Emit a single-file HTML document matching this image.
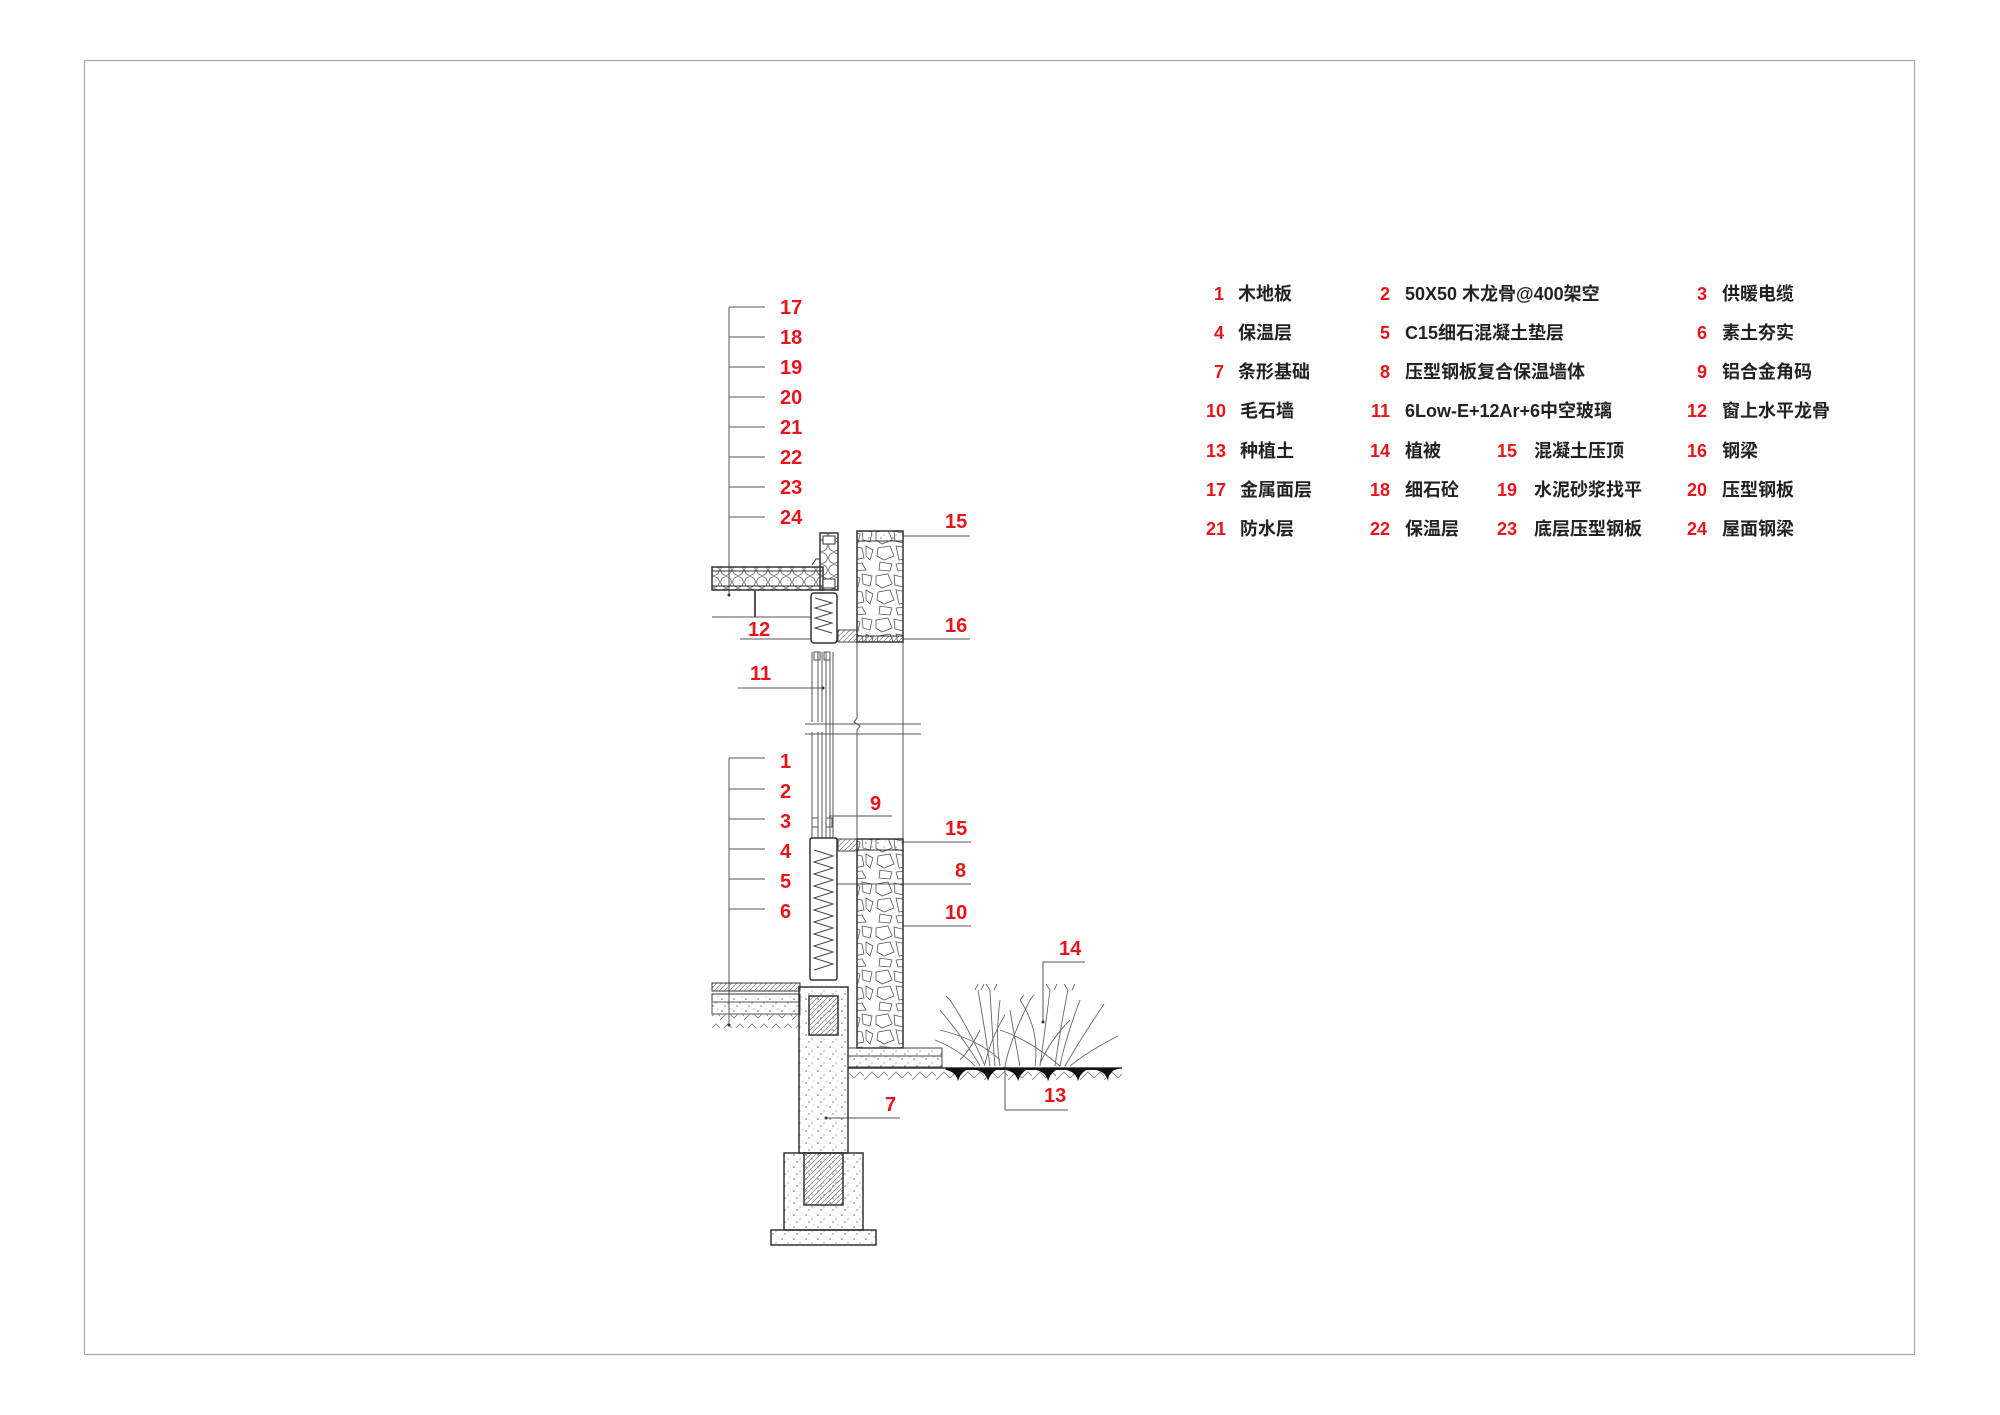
<!DOCTYPE html>
<html><head><meta charset="utf-8"><style>
body{margin:0;background:#fff}
svg{display:block}
.r{fill:#e8141b;font-family:"Liberation Sans",sans-serif;font-size:20px;font-weight:bold}
.n{fill:#e8141b;font-family:"Liberation Sans Narrow","Liberation Sans",sans-serif;font-size:18px;text-anchor:end;font-weight:bold}
.t{fill:#222;font-family:"Liberation Sans Narrow","Liberation Sans","Noto Sans CJK SC",sans-serif;font-size:18px;font-weight:bold}
</style></head><body>
<svg width="2000" height="1415" viewBox="0 0 2000 1415" xmlns="http://www.w3.org/2000/svg">
<defs>
<pattern id="circ" width="12" height="12" patternUnits="userSpaceOnUse"><circle cx="6" cy="6" r="5.3" fill="none" stroke="#555" stroke-width="0.7"/></pattern>
<pattern id="dots" width="12" height="12" patternUnits="userSpaceOnUse"><circle cx="2" cy="3" r="0.8" fill="#666"/><circle cx="8" cy="7" r="0.6" fill="#777"/><circle cx="5" cy="10" r="0.7" fill="#666"/><circle cx="10" cy="1" r="0.5" fill="#888"/></pattern>
<pattern id="hatch" width="5" height="5" patternUnits="userSpaceOnUse"><path d="M0 5L5 0" stroke="#777" stroke-width="0.7"/></pattern>
<pattern id="stone" width="46" height="44" patternUnits="userSpaceOnUse"><path d="M2 4L14 2L18 12L8 16L2 12Z M20 3L32 6L30 15L21 13Z M34 2L44 4L42 14L35 12Z M4 20L16 18L20 28L10 32L3 28Z M22 18L34 20L36 30L25 32Z M38 18L45 22L42 32L38 28Z M6 34L18 36L16 43L5 42Z M22 36L34 35L38 42L24 43Z" fill="none" stroke="#555" stroke-width="0.8"/></pattern>
<pattern id="soil" width="24" height="12" patternUnits="userSpaceOnUse"><path d="M0 12L8 4L14 10M14 10L20 4L24 8" fill="none" stroke="#777" stroke-width="0.8"/></pattern>
</defs>
<rect x="84.5" y="60.5" width="1830" height="1294" fill="none" stroke="#aaa" stroke-width="1.2"/>

<g stroke="#555" stroke-width="1" fill="none">
<path d="M729 307V595"/>
<path d="M729 307H765M729 337H765M729 367H765M729 397H765M729 427H765M729 457H765M729 487H765M729 517H765"/>
<path d="M729 758V1025"/>
<path d="M729 758H765M729 789H765M729 819H765M729 849H765M729 879H765M729 909H765"/>
<path d="M903 536H970M903 639H970M740 639H811M738 688H823M712 617H811M903 842H971M830 884H971M903 926H971M829 816H892M826 1118H900"/>
<path d="M1005 1068V1110H1068M1043 1022V962H1085"/>
<path d="M805 724H921M805 734H921"/>
<path d="M857 642V718L854 722L860 726L857 730V839M903 642V839"/>
</g>

<rect x="712" y="567" width="111" height="23" fill="url(#circ)" stroke="#333" stroke-width="1.5"/>
<line x1="712" y1="571" x2="823" y2="571" stroke="#333"/>
<line x1="712" y1="586" x2="823" y2="586" stroke="#333"/>
<rect x="754" y="590" width="2" height="27" fill="#555"/>
<rect x="820" y="533" width="18" height="57" fill="url(#circ)" stroke="#333" stroke-width="1.5"/>
<rect x="823" y="536" width="12" height="8" fill="#fff" stroke="#333"/>
<rect x="823" y="579" width="12" height="9" fill="#fff" stroke="#333"/>
<path d="M812 565L816 559H820" stroke="#333" fill="none"/>
<rect x="811" y="593" width="26" height="50" rx="3" fill="#fff" stroke="#333" stroke-width="1.5"/>
<polyline points="815,598 832,603 815,608 832,613 815,618 832,623 815,628 832,633" fill="none" stroke="#444"/>
<rect x="838" y="630" width="19" height="12" fill="url(#hatch)" stroke="#444"/>
<g stroke="#555" fill="none">
<path d="M812 652V840M833 652V840M818 652V840M822 652V840M826 652V840M830 652V840"/>
<rect x="814" y="652" width="6" height="8"/><rect x="824" y="652" width="6" height="8"/>
<rect x="812" y="818" width="6" height="9"/><rect x="826" y="818" width="6" height="9"/>
</g>
<rect x="804" y="722" width="20" height="10" fill="#fff"/>
<path d="M805 724H921M805 734H921" stroke="#555"/>
<rect x="857" y="531" width="46" height="111" fill="url(#stone)" stroke="#333" stroke-width="1.5"/>
<rect x="857" y="531" width="46" height="10" fill="url(#dots)" stroke="#333"/>
<rect x="857" y="636" width="46" height="6" fill="url(#hatch)" stroke="#333"/>
<rect x="810" y="838" width="27" height="142" rx="2" fill="#fff" stroke="#333" stroke-width="1.5"/>
<polyline points="814,850 833,856 814,862 833,868 814,874 833,880 814,886 833,892 814,898 833,904 814,910 833,916 814,922 833,928 814,934 833,940 814,946 833,952 814,958 833,964 814,970" fill="none" stroke="#444"/>
<rect x="838" y="839" width="19" height="12" fill="url(#hatch)" stroke="#444"/>
<rect x="857" y="839" width="46" height="209" fill="url(#stone)" stroke="#333" stroke-width="1.5"/>
<rect x="857" y="839" width="46" height="11" fill="url(#dots)" stroke="#333"/>
<rect x="712" y="983" width="88" height="8" fill="url(#hatch)" stroke="#333"/>
<rect x="712" y="994" width="88" height="8" fill="url(#dots)" stroke="#333"/>
<rect x="712" y="1002" width="88" height="12" fill="url(#dots)" stroke="#555"/>
<rect x="712" y="1014" width="88" height="14" fill="url(#soil)"/>
<rect x="799" y="987" width="49" height="166" fill="url(#dots)" stroke="#333" stroke-width="1.5"/>
<rect x="809" y="996" width="29" height="39" fill="url(#hatch)" stroke="#333" stroke-width="1.5"/>
<rect x="784" y="1153" width="79" height="77" fill="url(#dots)" stroke="#333" stroke-width="1.5"/>
<rect x="804" y="1153" width="39" height="52" fill="url(#hatch)" stroke="#333" stroke-width="1.5"/>
<rect x="771" y="1230" width="105" height="15" fill="url(#dots)" stroke="#333" stroke-width="1.5"/>
<rect x="848" y="1048" width="94" height="8" fill="url(#dots)" stroke="#444"/>
<rect x="848" y="1056" width="94" height="11" fill="url(#dots)" stroke="#444"/>
<rect x="848" y="1068" width="274" height="14" fill="url(#soil)"/>
<line x1="848" y1="1068" x2="1122" y2="1068" stroke="#333" stroke-width="1.5"/>
<path d="M945 1068H1122L1114 1070Q1108 1074 1108 1081Q1106 1072 1096 1070H1086Q1080 1074 1078 1081Q1076 1072 1066 1070H1056Q1050 1074 1048 1081Q1046 1072 1036 1070H1026Q1020 1074 1018 1081Q1016 1072 1006 1070H996Q990 1074 988 1081Q986 1072 976 1070H966Q960 1074 958 1081Q956 1072 946 1070Z" fill="#111"/>
<g stroke="#666" stroke-width="0.9" fill="none">
<path d="M935 1040Q960 1050 975 1066M940 1010Q965 1040 980 1066M950 1000Q970 1030 985 1066M978 990Q985 1030 990 1066M990 990Q992 1030 995 1066M1000 1000Q995 1040 1000 1066M1010 1010Q1015 1040 1020 1066M1020 1000Q1040 1030 1035 1066M1030 1000Q1010 1040 1005 1066M1050 990Q1045 1030 1040 1066M1068 990Q1060 1030 1055 1066M1080 1000Q1065 1040 1060 1066M1100 1010Q1080 1040 1065 1066M1118 1036Q1090 1050 1070 1066M1000 1030Q1030 1040 1060 1066M940 1030Q980 1040 1000 1060M960 1060Q970 1050 980 1030M1040 1064Q1050 1040 1070 1020M985 1064Q990 1040 1005 1015"/>
<path d="M975 990L978 984M981 990L984 984M990 990L986 984M994 990L997 984M1050 990L1046 984M1054 990L1057 984M1068 990L1064 984M1072 990L1075 984M950 1000L946 996M1100 1010L1104 1004M1020 1000L1024 995M1030 1000L1034 995"/>
</g>
<g fill="#333"><circle cx="729" cy="1025" r="1.5"/><circle cx="729" cy="595" r="1.5"/><circle cx="1043" cy="1022" r="1.5"/><circle cx="1005" cy="1068" r="1.5"/><circle cx="826" cy="1118" r="1.5"/><circle cx="823" cy="688" r="1.5"/></g>

<g class="r">
<text x="780" y="314">17</text><text x="780" y="344">18</text><text x="780" y="374">19</text><text x="780" y="404">20</text>
<text x="780" y="434">21</text><text x="780" y="464">22</text><text x="780" y="494">23</text><text x="780" y="524">24</text>
<text x="945" y="528">15</text><text x="945" y="632">16</text><text x="748" y="636">12</text><text x="750" y="680">11</text>
<text x="780" y="768">1</text><text x="780" y="798">2</text><text x="780" y="828">3</text><text x="780" y="858">4</text><text x="780" y="888">5</text><text x="780" y="918">6</text>
<text x="870" y="810">9</text><text x="945" y="835">15</text><text x="955" y="877">8</text><text x="945" y="919">10</text>
<text x="885" y="1111">7</text><text x="1059" y="955">14</text><text x="1044" y="1102">13</text>
</g>

<g>
<text class="n" x="1224" y="300">1</text><text class="t" x="1238" y="300">木地板</text>
<text class="n" x="1390" y="300">2</text><text class="t" x="1405" y="300">50X50 木龙骨@400架空</text>
<text class="n" x="1707" y="300">3</text><text class="t" x="1722" y="300">供暖电缆</text>
<text class="n" x="1224" y="339">4</text><text class="t" x="1238" y="339">保温层</text>
<text class="n" x="1390" y="339">5</text><text class="t" x="1405" y="339">C15细石混凝土垫层</text>
<text class="n" x="1707" y="339">6</text><text class="t" x="1722" y="339">素土夯实</text>
<text class="n" x="1224" y="378">7</text><text class="t" x="1238" y="378">条形基础</text>
<text class="n" x="1390" y="378">8</text><text class="t" x="1405" y="378">压型钢板复合保温墙体</text>
<text class="n" x="1707" y="378">9</text><text class="t" x="1722" y="378">铝合金角码</text>
<text class="n" x="1226" y="417">10</text><text class="t" x="1240" y="417">毛石墙</text>
<text class="n" x="1390" y="417">11</text><text class="t" x="1405" y="417">6Low-E+12Ar+6中空玻璃</text>
<text class="n" x="1707" y="417">12</text><text class="t" x="1722" y="417">窗上水平龙骨</text>
<text class="n" x="1226" y="457">13</text><text class="t" x="1240" y="457">种植土</text>
<text class="n" x="1390" y="457">14</text><text class="t" x="1405" y="457">植被</text>
<text class="n" x="1517" y="457">15</text><text class="t" x="1534" y="457">混凝土压顶</text>
<text class="n" x="1707" y="457">16</text><text class="t" x="1722" y="457">钢梁</text>
<text class="n" x="1226" y="496">17</text><text class="t" x="1240" y="496">金属面层</text>
<text class="n" x="1390" y="496">18</text><text class="t" x="1405" y="496">细石砼</text>
<text class="n" x="1517" y="496">19</text><text class="t" x="1534" y="496">水泥砂浆找平</text>
<text class="n" x="1707" y="496">20</text><text class="t" x="1722" y="496">压型钢板</text>
<text class="n" x="1226" y="535">21</text><text class="t" x="1240" y="535">防水层</text>
<text class="n" x="1390" y="535">22</text><text class="t" x="1405" y="535">保温层</text>
<text class="n" x="1517" y="535">23</text><text class="t" x="1534" y="535">底层压型钢板</text>
<text class="n" x="1707" y="535">24</text><text class="t" x="1722" y="535">屋面钢梁</text>
</g>
</svg>
</body></html>
